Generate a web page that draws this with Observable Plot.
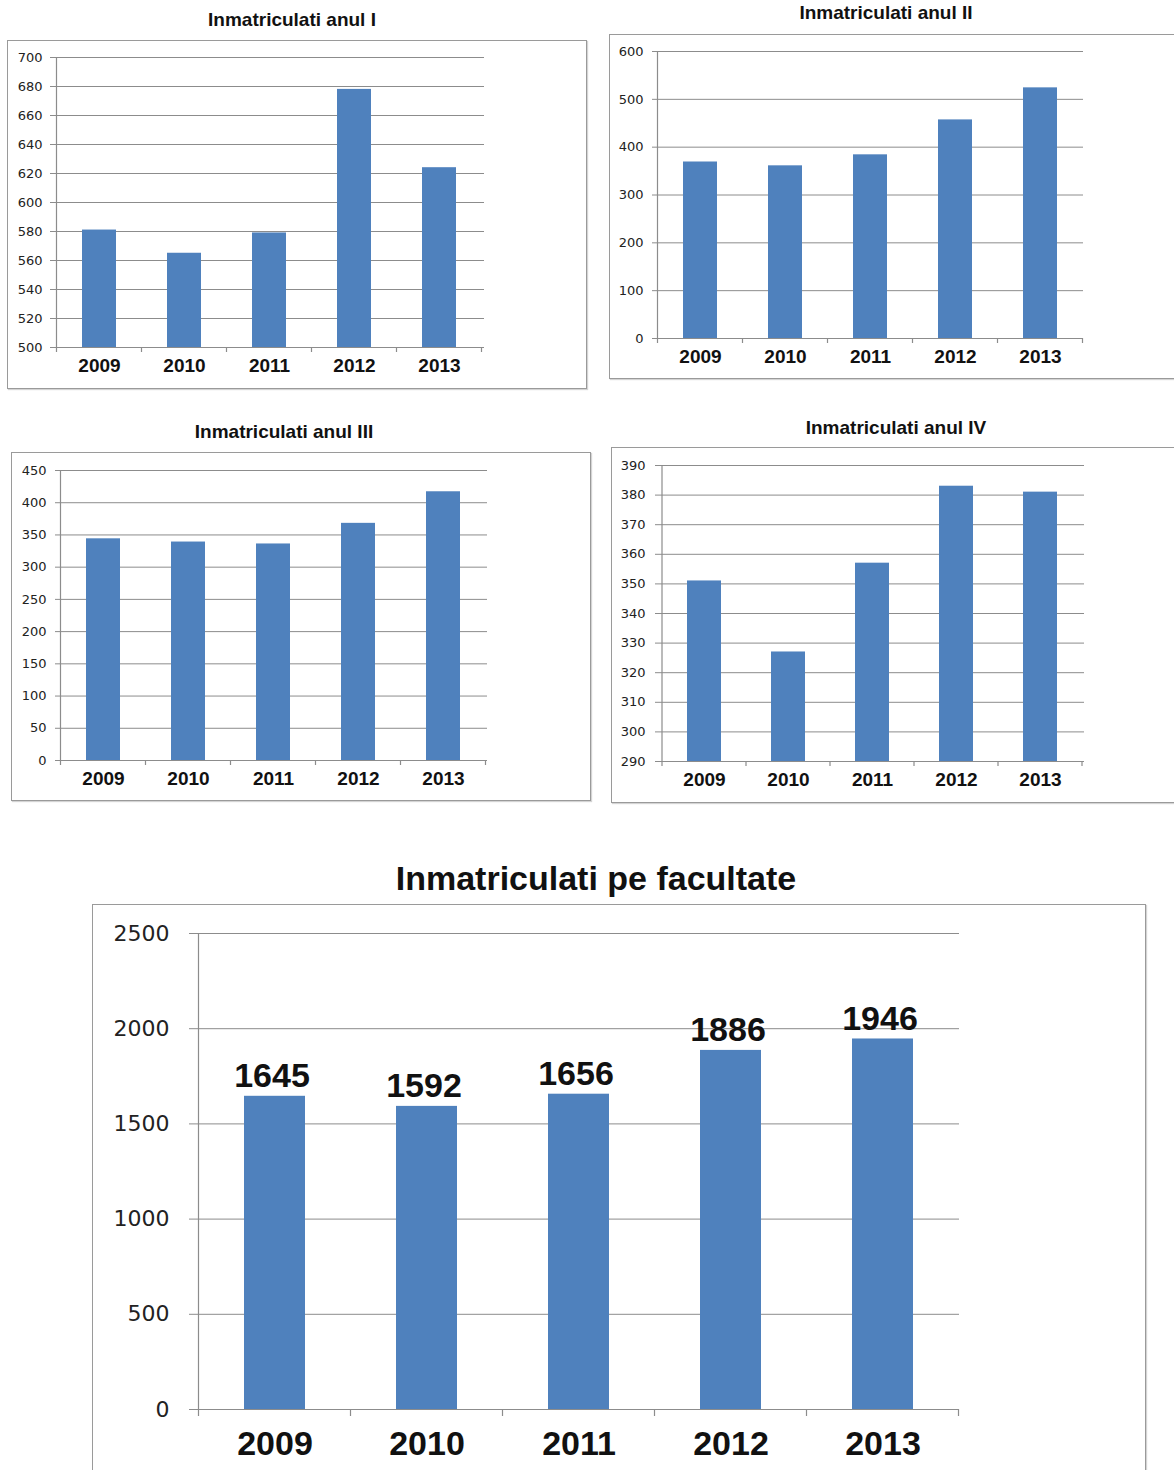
<!DOCTYPE html>
<html>
<head>
<meta charset="utf-8">
<script src="https://cdn.jsdelivr.net/npm/d3@7"></script>
<script src="https://cdn.jsdelivr.net/npm/@observablehq/plot@0.6"></script>
<style>
  body { margin: 0; background: #fff; }
  #page { position: relative; width: 1174px; height: 1470px; overflow: hidden; background: #fff; }
  .title { position: absolute; text-align: center; font-family: "Liberation Sans", Arial, sans-serif; font-weight: bold; color: #111; white-space: nowrap; }
  .box { position: absolute; border: 1px solid #9a9a9a; box-shadow: 1px 1px 1px #d4d4d4; box-sizing: border-box; background: #fff; }
  .chart { position: absolute; }
  .chart g[aria-label="x-axis tick label"] { font-family: "Liberation Sans", Arial, sans-serif; font-weight: bold; fill: #111; }
  .chart g[aria-label="y-axis tick label"] { font-family: "DejaVu Sans", sans-serif; fill: #222; }
  .chart g[aria-label="y-axis tick"] { stroke: #8c8c8c; }
</style>
</head>
<body>
<div id="page"></div>
<script>
// ---- data ----
const years = ["2009", "2010", "2011", "2012", "2013"];
const anulI = [581, 565, 579, 678, 624];
const anulII = [369, 361, 384, 457, 524];
const anulIII = [344, 339, 336, 368, 417];
const anulIV = [351, 327, 357, 383, 381];
const totalFacultate = [1645, 1592, 1656, 1886, 1946];

const ticksI = [500, 520, 540, 560, 580, 600, 620, 640, 660, 680, 700];
const ticksII = [0, 100, 200, 300, 400, 500, 600];
const ticksIII = [0, 50, 100, 150, 200, 250, 300, 350, 400, 450];
const ticksIV = [290, 300, 310, 320, 330, 340, 350, 360, 370, 380, 390];
const ticksTotal = [0, 500, 1000, 1500, 2000, 2500];

const titleI = "Inmatriculati anul I";
const titleII = "Inmatriculati anul II";
const titleIII = "Inmatriculati anul III";
const titleIV = "Inmatriculati anul IV";
const titleTotal = "Inmatriculati pe facultate";

// ---- styles ----
const BAR = "#4F81BD";
const GRID = "#8c8c8c";
const page = document.getElementById("page");

function addTitle(text, cx, cy, size) {
  const d = document.createElement("div");
  d.className = "title";
  d.textContent = text;
  d.style.left = (cx - 300) + "px";
  d.style.width = "600px";
  d.style.top = (cy - size * 0.6) + "px";
  d.style.fontSize = size + "px";
  d.style.lineHeight = (size * 1.2) + "px";
  page.appendChild(d);
}

function addBox(left, top, w, h) {
  const d = document.createElement("div");
  d.className = "box";
  Object.assign(d.style, {left: left + "px", top: top + "px", width: w + "px", height: h + "px"});
  page.appendChild(d);
}

function makeChart(cfg) {
  const data = years.map((year, i) => ({year, value: cfg.values[i]}));
  const t = cfg.ticks, lo = t[0], hi = t[t.length - 1];
  const marks = [
    Plot.gridY(t, {stroke: GRID, strokeOpacity: 1}),
    Plot.barY(data, {x: "year", y1: lo, y2: "value", fill: BAR}),
    Plot.axisY(t, {tickSize: cfg.yTick, tickPadding: cfg.yPad, fontSize: cfg.yFont, label: null, tickFormat: d => String(d)}),
    Plot.axisX({tickSize: 0, tickPadding: cfg.xPad, fontSize: cfg.xFont, label: null})
  ];
  if (cfg.showValues) {
    marks.push(Plot.text(data, {
      x: "year", y: "value", text: d => String(d.value), dy: cfg.valueDy, dx: -3,
      fontSize: cfg.valueFont, fontWeight: "bold", fontFamily: "Liberation Sans, Arial, sans-serif", fill: "#111"
    }));
  }
  const plot = Plot.plot({
    width: cfg.w, height: cfg.h,
    marginLeft: cfg.ml, marginRight: cfg.mr, marginTop: cfg.mt, marginBottom: cfg.mb,
    x: {domain: years, paddingInner: 0.6, paddingOuter: 0.3},
    y: {domain: [lo, hi]},
    style: {fontFamily: "DejaVu Sans, sans-serif", background: "transparent", overflow: "visible"},
    marks
  });
  // axis lines and category boundary ticks, placed with the plot's own scales
  const sx = plot.scale("x"), sy = plot.scale("y");
  const step = sx.step != null ? sx.step : (sx.range[1] - sx.range[0]) / (years.length - 0.6 + 0.6);
  const bw = sx.bandwidth != null ? sx.bandwidth : step * 0.4;
  const left = sx.apply(years[0]) - (step - bw) / 2;
  const yTop = sy.apply(hi), yBot = sy.apply(lo);
  const g = d3.select(plot).append("g").attr("stroke", GRID).attr("stroke-width", 1.2);
  g.append("line").attr("x1", left).attr("x2", left).attr("y1", yTop).attr("y2", yBot + cfg.xTick);
  for (let k = 1; k <= years.length; k++) {
    const x = left + k * step;
    g.append("line").attr("x1", x).attr("x2", x).attr("y1", yBot).attr("y2", yBot + cfg.xTick);
  }
  plot.classList.add("chart");
  plot.style.left = cfg.left + "px";
  plot.style.top = cfg.top + "px";
  plot.style.position = "absolute";
  page.appendChild(plot);
}

// ---- chart I ----
addTitle(titleI, 292, 20, 19);
addBox(7, 40, 580, 349);
makeChart({values: anulI, ticks: ticksI, left: 7, top: 40, w: 579, h: 348,
  ml: 48, mr: 102, mt: 17, mb: 41, yTick: 5, yPad: 8, yFont: 13, xPad: 11, xFont: 19, xTick: 5});

// ---- chart II ----
addTitle(titleII, 886, 13, 19);
addBox(609, 34, 620, 345);
makeChart({values: anulII, ticks: ticksII, left: 609, top: 34, w: 565, h: 344,
  ml: 48, mr: 91, mt: 17, mb: 40, yTick: 5, yPad: 9, yFont: 13, xPad: 11, xFont: 19, xTick: 5});

// ---- chart III ----
addTitle(titleIII, 284, 432, 19);
addBox(11, 452, 580, 349);
makeChart({values: anulIII, ticks: ticksIII, left: 11, top: 452, w: 579, h: 348,
  ml: 49, mr: 103, mt: 18, mb: 40, yTick: 5, yPad: 9, yFont: 13, xPad: 11, xFont: 19, xTick: 5});

// ---- chart IV ----
addTitle(titleIV, 896, 428, 19);
addBox(611, 447, 620, 356);
makeChart({values: anulIV, ticks: ticksIV, left: 611, top: 447, w: 563, h: 355,
  ml: 49, mr: 90, mt: 18, mb: 41, yTick: 5, yPad: 10, yFont: 13, xPad: 11, xFont: 19, xTick: 5});

// ---- total ----
addTitle(titleTotal, 596, 878, 34);
addBox(92, 904, 1054, 600);
makeChart({values: totalFacultate, ticks: ticksTotal, left: 92, top: 904, w: 1053, h: 566,
  ml: 105, mr: 186, mt: 29, mb: 61, yTick: 8, yPad: 20, yFont: 22, xPad: 21, xFont: 34, xTick: 7,
  showValues: true, valueDy: -20, valueFont: 34});
</script>
</body>
</html>
